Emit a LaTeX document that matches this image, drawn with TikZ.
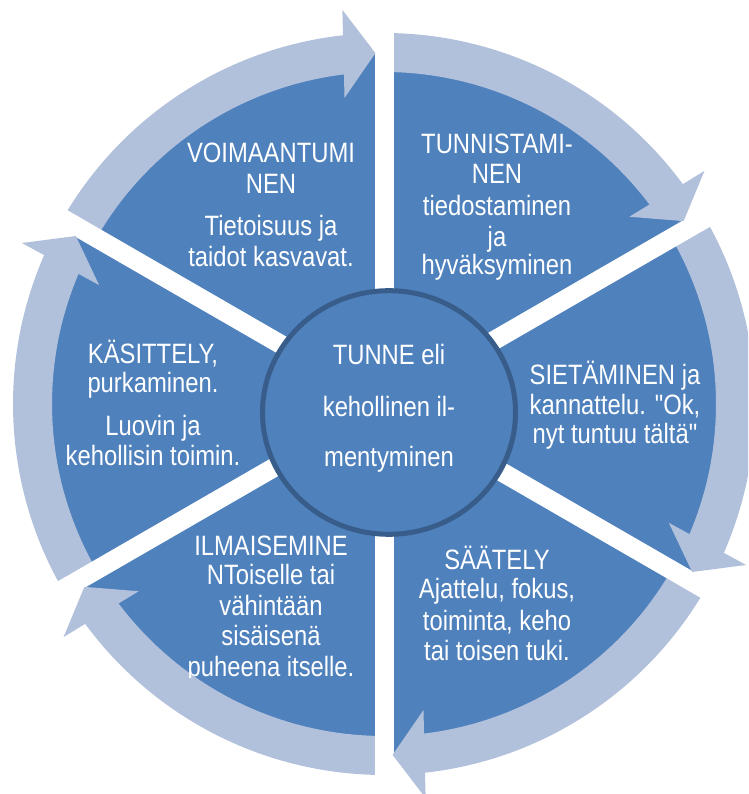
\documentclass[tikz,border=0pt]{standalone}
\usepackage{fontspec}
\setmainfont{Liberation Sans}[FakeStretch=0.85,Ligatures=TeXOff]
\usetikzlibrary{calc}
\definecolor{secblue}{HTML}{4F81BD}
\definecolor{ringblue}{HTML}{B2C1DB}
\definecolor{rimblue}{HTML}{385D8A}
\begin{document}
\begin{tikzpicture}[x=1pt,y=1pt,
  lbl/.style={text=white,font=\fontsize{28}{30}\selectfont,anchor=base,inner sep=0pt},
  bandfill/.style={fill=ringblue},
  gapline/.style={draw=white,line width=19pt},
  hubstyle/.style={fill=secblue,draw=rimblue,line width=5pt}
]
\useasboundingbox (0,0) rectangle (748,794);
\clip (0,0) rectangle (748,794);
\coordinate (C) at (384,390);
% sectors
\fill[secblue] (C) circle (350);
% ring bands
\foreach \a in {150,90,30,-30,-90,-150}{
  \pgfmathsetmacro\b{\a-54.9}
  \fill[bandfill] ($(C)+(\a:371)$) arc[start angle=\a, end angle=\b, radius=371]
     -- ($(C)+(\b:332)$) arc[start angle=\b, end angle=\a, radius=332] -- cycle;
}
% white gaps
\foreach \a in {90,30,-30,-90,-150,150}{
  \draw[gapline] (C) -- ($(C)+(\a:420)$);
}
% arrow heads
\foreach \a in {90,30,-30,-90,-150,150}{
  \pgfmathsetmacro\t{\a+1.4}
  \pgfmathsetmacro\u{\a+91.4}
  \fill[bandfill] ($(C)+(\t:351)$) -- ($(C)+(\t:351)+(\u:32)+(\t:44)$)
     -- ($(C)+(\t:351)+(\u:32)+(\t:-44)$) -- cycle;
}
% hub
\draw[hubstyle] (389,381.5) ellipse [x radius=126.5, y radius=121.8];
\node[lbl] (c1) at (389,429) {TUNNE eli};
\node[lbl] (c2) at (389,377) {kehollinen il-};
\node[lbl] (c3) at (389,327) {mentyminen};
% top-left
\node[lbl] (a1) at (271,631) {VOIMAANTUMI};
\node[lbl] (a2) at (271,600) {NEN};
\node[lbl] (a3) at (271,558) {Tietoisuus ja};
\node[lbl] (a4) at (271,527) {taidot kasvavat.};
% top-right
\node[lbl] (b1) at (497,640) {TUNNISTAMI-};
\node[lbl] (b2) at (497,610) {NEN};
\node[lbl] (b3) at (497,578) {tiedostaminen};
\node[lbl] (b4) at (497,547) {ja};
\node[lbl] (b5) at (497,519) {hyväksyminen};
% right
\node[lbl] (d1) at (615,409) {SIETÄMINEN ja};
\node[lbl] (d2) at (615,379) {kannattelu. "Ok,};
\node[lbl] (d3) at (615,350) {nyt tuntuu tältä"};
% bottom-right
\node[lbl] (e1) at (497,224) {SÄÄTELY};
\node[lbl] (e2) at (497,195) {Ajattelu, fokus,};
\node[lbl] (e3) at (497,163) {toiminta, keho};
\node[lbl] (e4) at (497,133) {tai toisen tuki.};
% bottom-left
\node[lbl] (f1) at (271,238) {ILMAISEMINE};
\node[lbl] (f2) at (271,209) {NToiselle tai};
\node[lbl] (f3) at (271,178) {vähintään};
\node[lbl] (f4) at (271,148) {sisäisenä};
\begin{scope}
  \clip (150,116.3) rectangle (400,140);
  \node[lbl] (f5) at (271,117) {puheena itselle.};
\end{scope}
% left
\node[lbl] (g1) at (153,430) {KÄSITTELY,};
\node[lbl] (g2) at (153,401) {purkaminen.};
\node[lbl] (g3) at (153,358) {Luovin ja};
\node[lbl] (g4) at (153,328) {kehollisin toimin.};
\end{tikzpicture}
\end{document}
